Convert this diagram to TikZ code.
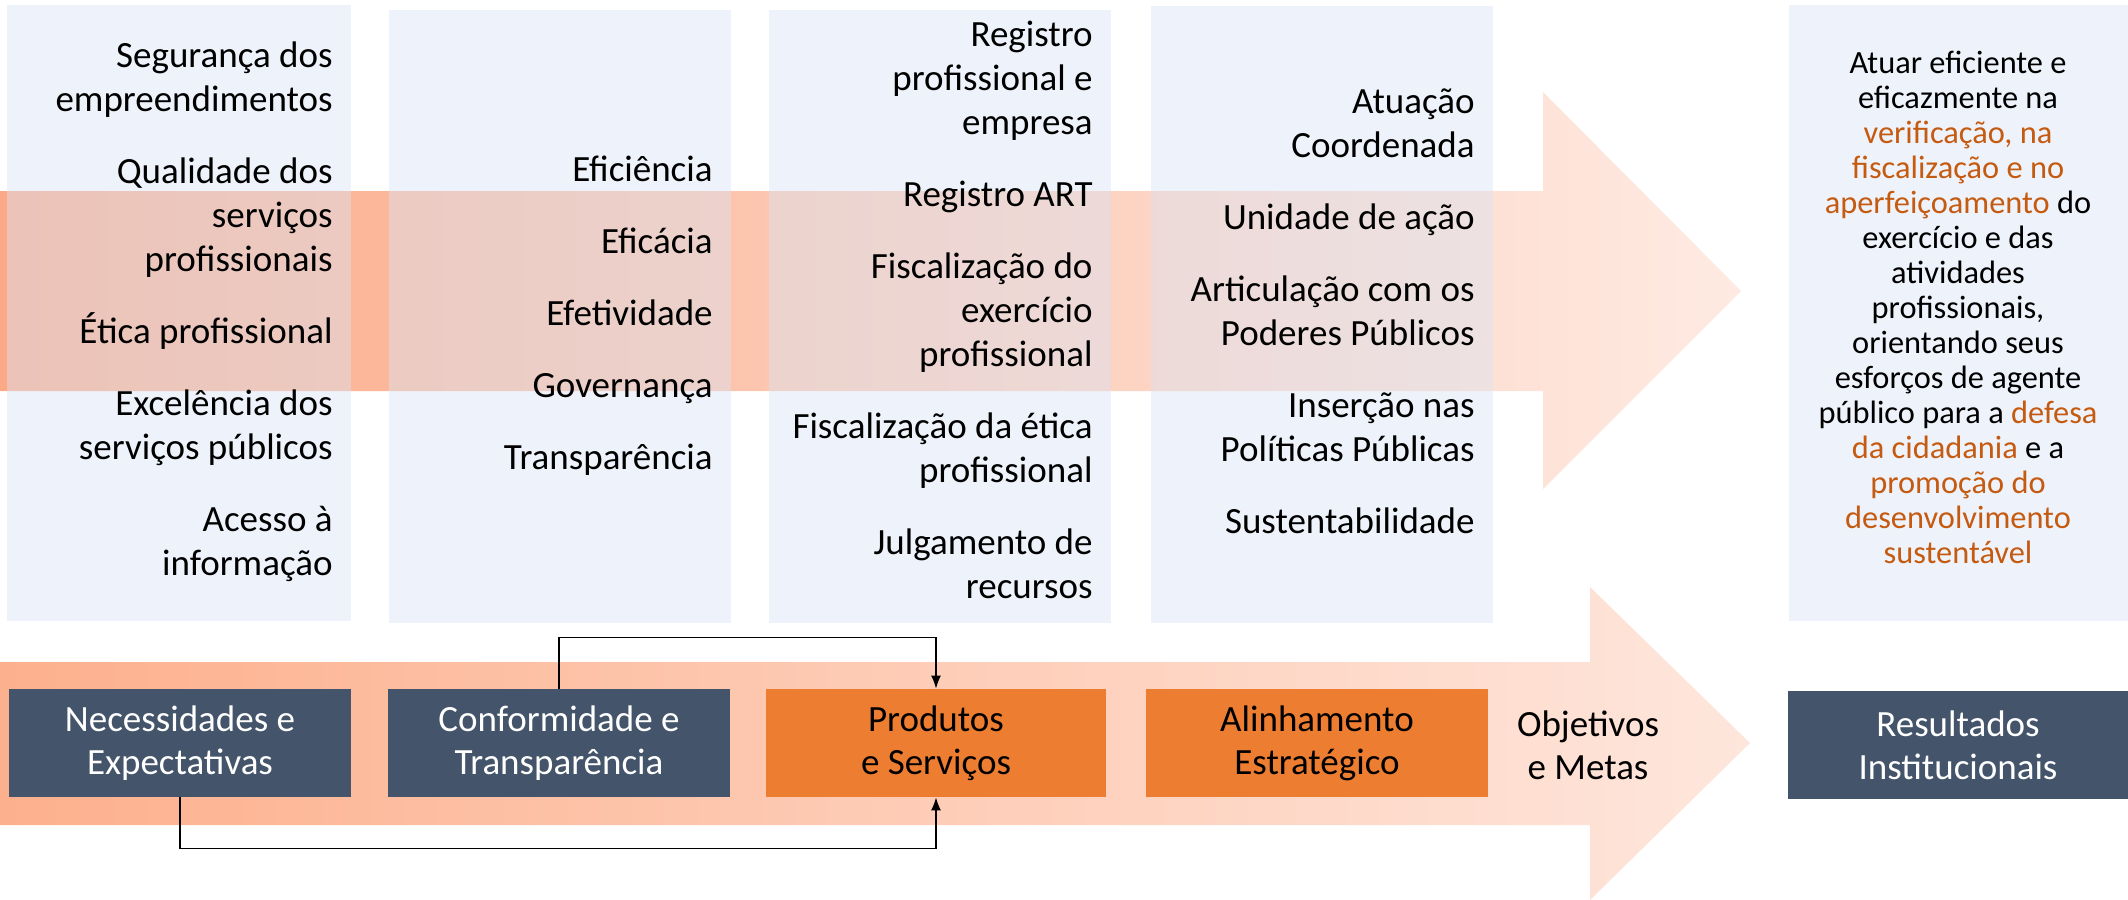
\documentclass[tikz,border=0pt]{standalone}
\usepackage{fontspec}
\setmainfont{Carlito}
\usetikzlibrary{arrows.meta}
\definecolor{colfill}{HTML}{DAE3F3}
\definecolor{darkfill}{HTML}{44546A}
\definecolor{orangefill}{HTML}{ED7D31}
\definecolor{txtorange}{HTML}{C55A11}
\definecolor{arrL}{HTML}{FBA987}
\definecolor{arrR}{HTML}{FEEAE2}
\definecolor{barrL}{HTML}{FDB08D}
\definecolor{barrR}{HTML}{FEE6DC}
\begin{document}
\begin{tikzpicture}[x=0.5pt,y=-0.5pt,
  colbox/.style={fill=colfill, opacity=0.45},
  coltext/.style={anchor=east, align=right, inner sep=0pt, font=\fontsize{18.5}{22}\selectfont},
  boxbase/.style={minimum width=171pt, minimum height=54pt, inner sep=0pt, align=center, font=\fontsize{18.5}{21.5}\selectfont},
  stepdark/.style={boxbase, fill=darkfill, text=white},
  steporange/.style={boxbase, fill=orangefill, text=black},
  conn/.style={draw=black, line width=0.65pt, -{Latex[length=6.5pt,width=5pt]}}
]
\useasboundingbox (0,0) rectangle (2128,899);

% top arrow
\shade[left color=arrL, right color=arrR]
  (0,191) -- (1543,191) -- (1543,92) -- (1741,291) -- (1543,489) -- (1543,391) -- (0,391) -- cycle;

% columns
\fill[colbox] (7,5) rectangle (351,621);
\fill[colbox] (389,10) rectangle (731,623);
\fill[colbox] (769,10) rectangle (1111,623);
\fill[colbox] (1151,6) rectangle (1493,623);
\fill[colbox] (1789,5) rectangle (2128,621);

\node[coltext] (t1) at (333,313) {\strut Segurança dos\\empreendimentos\\[14pt]
  Qualidade dos\\serviços\\profissionais\\[14pt]
  Ética profissional\\[14pt]
  Excelência dos\\serviços públicos\\[14pt]
  Acesso à\\informação\strut};
\node[coltext] (t2) at (713,317) {\strut Eficiência\\[14pt]Eficácia\\[14pt]Efetividade\\[14pt]Governança\\[14pt]Transparência\strut};
\node[coltext] (t3) at (1093,314) {\strut Registro\\profissional e\\empresa\\[14pt]
  Registro ART\\[14pt]
  Fiscalização do\\exercício\\profissional\\[14pt]
  Fiscalização da ética\\profissional\\[14pt]
  Julgamento de\\recursos\strut};
\node[coltext] (t4) at (1475,315) {\strut Atuação\\Coordenada\\[14pt]
  Unidade de ação\\[14pt]
  Articulação com os\\Poderes Públicos\\[14pt]
  Inserção nas\\Políticas Públicas\\[14pt]
  Sustentabilidade\strut};

\node[align=center, inner sep=0pt, font=\fontsize{16.2}{17.5}\selectfont] (r) at (1958,311) {\strut Atuar eficiente e\\
eficazmente na\\
\textcolor{txtorange}{verificação, na}\\
\textcolor{txtorange}{fiscalização e no}\\
\textcolor{txtorange}{aperfeiçoamento} do\\
exercício e das\\
atividades\\
profissionais,\\
orientando seus\\
esforços de agente\\
público para a \textcolor{txtorange}{defesa}\\
\textcolor{txtorange}{da cidadania} e a\\
\textcolor{txtorange}{promoção do}\\
\textcolor{txtorange}{desenvolvimento}\\
\textcolor{txtorange}{sustentável}\strut};

% bottom arrow
\shade[left color=barrL, right color=barrR]
  (0,662) -- (1590,662) -- (1590,587) -- (1750,743) -- (1590,900) -- (1590,825) -- (0,825) -- cycle;

\node[stepdark] (b1) at (180,743) {Necessidades e\\Expectativas};
\node[stepdark] (b2) at (559,743) {Conformidade e\\Transparência};
\node[steporange, minimum width=170pt] (b3) at (936,743) {Produtos\\e Serviços};
\node[steporange] (b4) at (1317,743) {Alinhamento\\Estratégico};
\node[align=center, inner sep=0pt, font=\fontsize{18.5}{21.5}\selectfont] (o) at (1588,745) {Objetivos\\e Metas};
\node[stepdark, minimum width=170pt] (b5) at (1958,745) {Resultados\\Institucionais};

\draw[conn] (b2.north) -- ++(0,-51) -| (b3.north);
\draw[conn] (b1.south) -- ++(0,51) -| (b3.south);
\end{tikzpicture}
\end{document}
